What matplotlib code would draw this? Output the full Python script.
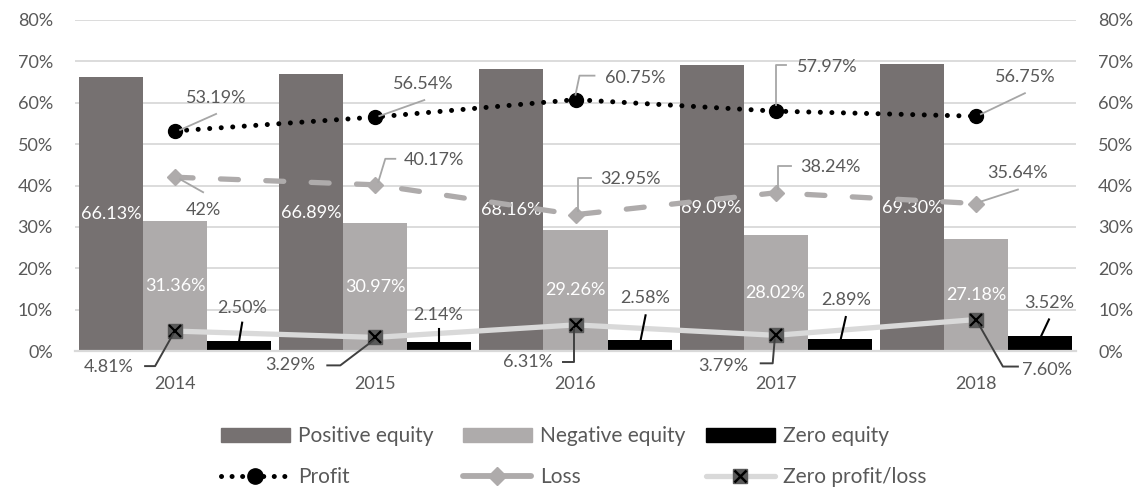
import matplotlib
matplotlib.use("Agg")
import matplotlib.pyplot as plt
import numpy as np
from matplotlib.lines import Line2D
from matplotlib.patches import Patch
from matplotlib.legend_handler import HandlerTuple

# ---------------- data ----------------
years = ["2014", "2015", "2016", "2017", "2018"]
positive_equity = [66.13, 66.89, 68.16, 69.09, 69.30]
negative_equity = [31.36, 30.97, 29.26, 28.02, 27.18]
zero_equity = [2.50, 2.14, 2.58, 2.89, 3.52]
profit = [53.19, 56.54, 60.75, 57.97, 56.75]
loss = [42.00, 40.17, 32.95, 38.24, 35.64]
zero_pl = [4.81, 3.29, 6.31, 3.79, 7.60]
y_ticks = [0, 10, 20, 30, 40, 50, 60, 70, 80]

# ---------------- style ----------------
plt.rcParams['font.family'] = ['Lato', 'DejaVu Sans']
TXT = '#595959'
C_POS = '#767171'
C_NEG = '#AEABAB'
C_ZERO = '#000000'
C_GRID = '#D9D9D9'
FS = 13
LFS = 15

W, H = 1146, 493
fig = plt.figure(figsize=(W / 100, H / 100), dpi=100)
ax = fig.add_axes([75 / W, 1 - 351 / H, 1001 / W, 331 / H])

x = np.arange(len(years))
bw = 0.32
b_pos = ax.bar(x - bw, positive_equity, bw, color=C_POS, zorder=2)
b_neg = ax.bar(x, negative_equity, bw, color=C_NEG, zorder=2)
b_zero = ax.bar(x + bw, zero_equity, bw, color=C_ZERO, zorder=2)

ax.set_xlim(-0.5, len(years) - 0.5)
ax.set_ylim(0, 80)
ax.set_yticks(y_ticks)
ax.set_yticklabels([f"{t}%" for t in y_ticks])
ax.set_xticks(x)
ax.set_xticklabels(years)
ax.tick_params(axis='both', length=0, colors=TXT, labelsize=FS)
ax.tick_params(axis='y', pad=16)
ax.tick_params(axis='x', pad=18)
ax.yaxis.grid(True, color=C_GRID, lw=1.3)
ax.set_axisbelow(True)
for s in ['top', 'right', 'left']:
    ax.spines[s].set_visible(False)
ax.spines['bottom'].set_color(C_GRID)
ax.spines['bottom'].set_linewidth(1.6)

ax2 = ax.twinx()
ax2.set_ylim(0, 80)
ax2.set_yticks(y_ticks)
ax2.set_yticklabels([f"{t}%" for t in y_ticks])
ax2.tick_params(axis='y', length=0, colors=TXT, labelsize=FS, pad=16)
for s in ax2.spines.values():
    s.set_visible(False)

# ---------------- lines ----------------
ln_zero, = ax.plot(x, zero_pl, color=C_GRID, lw=3.8, zorder=4,
                   solid_capstyle='round')
mk_zero_sq, = ax.plot(x, zero_pl, ls='none', marker='s', ms=10,
                      mfc='#595959', mec='#595959', zorder=5)
mk_zero_x, = ax.plot(x, zero_pl, ls='none', marker='x', ms=9, mew=1.6,
                     color='black', zorder=6)

ln_loss, = ax.plot(x, loss, color=C_NEG, lw=3.8, ls=(0, (3.4, 5.2)),
                   dash_capstyle='round', marker='D', ms=8.5, mfc=C_NEG,
                   mec=C_NEG, zorder=4)
ln_profit, = ax.plot(x, profit, color='black', lw=3.6, ls=(0, (0.01, 2.3)),
                     dash_capstyle='round', marker='o', ms=10, mfc='black',
                     mec='black', zorder=4)

# ---------------- labels ----------------
def fmt(v):
    return f"{v:.0f}%" if float(v).is_integer() else f"{v:.2f}%"

inv = fig.transFigure.inverted()

def leader(xd, yd, pts, color, lw=1.3):
    px, py = ax.transData.transform((xd, yd))
    xs, ys = [], []
    for dx, dy in pts:
        fx, fy = inv.transform((px + dx, py - dy))
        xs.append(fx)
        ys.append(fy)
    fig.add_artist(Line2D(xs, ys, color=color, lw=lw, transform=fig.transFigure,
                          zorder=7))

def label(xd, yd, text, dx, dy, color=TXT):
    ax.annotate(text, xy=(xd, yd), xytext=(dx, -dy), textcoords='offset pixels',
                ha='center', va='center', color=color, fontsize=FS, zorder=8)

# bar labels inside (white)
for i in range(len(years)):
    ax.text(x[i] - bw, positive_equity[i] / 2, fmt(positive_equity[i]),
            ha='center', va='center', color='white', fontsize=FS, zorder=3)
    ax.text(x[i], negative_equity[i] / 2, fmt(negative_equity[i]),
            ha='center', va='center', color='white', fontsize=FS, zorder=3)

# zero equity labels with leaders
ze_lab = [(3, -33), (-1, -27), (6, -42), (6, -39), (9, -33)]
ze_lead = [[(0, 0), (3, -18)], [(0, 0), (0, -13)], [(1, 0), (6, -25)],
           [(1, 0), (6, -22)], [(1, 0), (9, -17)]]
for i in range(len(years)):
    label(x[i] + bw, zero_equity[i], fmt(zero_equity[i]), *ze_lab[i])
    leader(x[i] + bw, zero_equity[i], ze_lead[i], 'black', 1.5)

# profit labels
pr_lab = [(41, -33), (48, -33), (60, -22), (52, -44), (49, -39)]
pr_lead = [[(5, -1), (41, -17)], [(4, -1), (49, -17)],
           [(0, -5), (4, -24), (19, -24)], [(0, -6), (0, -46), (10, -46)],
           [(5, -2), (49, -23)]]
for i in range(len(years)):
    label(x[i], profit[i], fmt(profit[i]), *pr_lab[i])
    leader(x[i], profit[i], pr_lead[i], '#A6A6A6')

# loss labels
lo_lab = [(28, 33), (59, -25), (55, -36), (55, -26), (42, -31)]
lo_lead = [[(5, 2), (28, 15)], [(3, -3), (10, -26), (20, -26)],
           [(2, -4), (2, -37), (15, -37)], [(2, -4), (2, -27), (15, -27)],
           [(5, -2), (42, -14)]]
for i in range(len(years)):
    label(x[i], loss[i], fmt(loss[i]), *lo_lab[i])
    leader(x[i], loss[i], lo_lead[i], '#A6A6A6')

# zero profit/loss labels
zp_lab = [(-66, 36), (-85, 28), (-48, 37), (-52, 31), (71, 50)]
zp_lead = [[(-2, 3), (-20, 35), (-30, 35)], [(-2, 3), (-35, 28), (-48, 28)],
           [(-2, 4), (-2, 37), (-13, 37)], [(-1, 4), (-3, 28), (-15, 28)],
           [(3, 5), (27, 47), (42, 47)]]
for i in range(len(years)):
    label(x[i], zero_pl[i], fmt(zero_pl[i]), *zp_lab[i])
    leader(x[i], zero_pl[i], zp_lead[i], '#404040', 1.4)

# ---------------- legend ----------------
h_pos = Patch(color=C_POS)
h_neg = Patch(color=C_NEG)
h_zero = Patch(color=C_ZERO)
h_profit = Line2D([], [], color='black', lw=3.6, ls=(0, (0.01, 2.1)),
                  dash_capstyle='round', marker='o', ms=11)
h_loss = Line2D([], [], color=C_NEG, lw=4.2, ls=(0, (4.8, 2.07)),
                dash_capstyle='round', marker='D', ms=9)
h_zl = Line2D([], [], color=C_GRID, lw=3.8, marker='s', ms=10,
              mfc='#595959', mec='#595959', solid_capstyle='round')
h_zx = Line2D([], [], ls='none', marker='x', ms=9, mew=1.8, color='black')

columns = [
    ([h_pos, h_profit], ["Positive equity", "Profit"], 221),
    ([h_neg, h_loss], ["Negative equity", "Loss"], 463),
    ([h_zero, (h_zl, h_zx)], ["Zero equity", "Zero profit/loss"], 706),
]
for hs, ls_, xl in columns:
    lg = fig.legend(hs, ls_, loc='center left',
                    bbox_to_anchor=(xl / W, 1 - 456.5 / H), frameon=False,
                    fontsize=LFS, labelcolor=TXT, handlelength=3.3,
                    handleheight=0.68, labelspacing=1.0, handletextpad=0.4,
                    borderpad=0, borderaxespad=0,
                    handler_map={tuple: HandlerTuple(ndivide=1, pad=0)})

fig.savefig("out.png", dpi=100)
